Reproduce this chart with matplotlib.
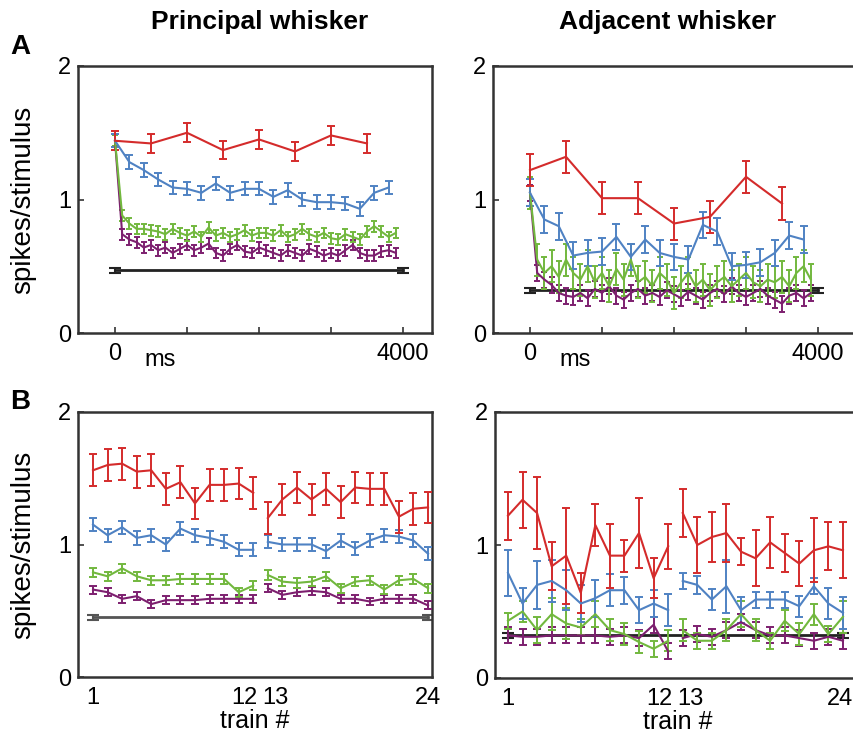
import matplotlib
matplotlib.use("Agg")
import matplotlib.pyplot as plt

plt.rcParams['font.family'] = ['Liberation Sans', 'DejaVu Sans']

# colours of the four stimulus frequencies
RED = '#d42b2b'
BLUE = '#4f82c3'
GREEN = '#72b83e'
PURPLE = '#7d1f6f'

# ---- panel A: response within a train (time in ms) ----
t_red = [0, 500, 1000, 1500, 2000, 2500, 3000, 3500]
t_blue = [0, 200, 400, 600, 800, 1000, 1200, 1400, 1600, 1800,
          2000, 2200, 2400, 2600, 2800, 3000, 3200, 3400, 3600, 3800]
t_fast = [0, 100, 200, 300, 400, 500, 600, 700, 800, 900,
          1000, 1100, 1200, 1300, 1400, 1500, 1600, 1700, 1800, 1900,
          2000, 2100, 2200, 2300, 2400, 2500, 2600, 2700, 2800, 2900,
          3000, 3100, 3200, 3300, 3400, 3500, 3600, 3700, 3800, 3900]

pw_red = [1.44, 1.42, 1.50, 1.37, 1.45, 1.36, 1.48, 1.42]
pw_blue = [1.44, 1.28, 1.22, 1.15, 1.09, 1.08, 1.05, 1.12, 1.05, 1.08,
           1.08, 1.02, 1.07, 1.00, 0.98, 0.98, 0.97, 0.93, 1.05, 1.09]
pw_green = [1.44, 0.88, 0.82, 0.78, 0.78, 0.77, 0.76, 0.74, 0.78, 0.75,
            0.73, 0.76, 0.72, 0.79, 0.73, 0.75, 0.72, 0.74, 0.77, 0.73,
            0.75, 0.75, 0.73, 0.77, 0.72, 0.74, 0.78, 0.74, 0.72, 0.75,
            0.71, 0.70, 0.74, 0.72, 0.70, 0.76, 0.80, 0.76, 0.72, 0.75]
pw_purple = [1.44, 0.74, 0.70, 0.68, 0.64, 0.66, 0.62, 0.64, 0.60, 0.63,
             0.66, 0.62, 0.64, 0.67, 0.60, 0.58, 0.63, 0.66, 0.61, 0.60,
             0.64, 0.62, 0.60, 0.58, 0.62, 0.60, 0.58, 0.63, 0.61, 0.58,
             0.60, 0.58, 0.62, 0.66, 0.60, 0.58, 0.58, 0.61, 0.62, 0.60]
pw_base = 0.47

aw_red = [1.22, 1.32, 1.01, 1.01, 0.82, 0.87, 1.17, 0.97]
aw_blue = [1.05, 0.85, 0.80, 0.58, 0.60, 0.61, 0.72, 0.57, 0.70, 0.60,
           0.57, 0.55, 0.81, 0.76, 0.50, 0.51, 0.53, 0.60, 0.73, 0.70]
aw_green = [1.05, 0.55, 0.45, 0.50, 0.42, 0.55, 0.45, 0.40, 0.50, 0.38,
            0.45, 0.35, 0.48, 0.40, 0.55, 0.38, 0.42, 0.35, 0.45, 0.40,
            0.30, 0.38, 0.45, 0.35, 0.40, 0.32, 0.38, 0.42, 0.35, 0.40,
            0.45, 0.38, 0.35, 0.40, 0.38, 0.42, 0.35, 0.45, 0.50, 0.40]
aw_purple = [1.05, 0.45, 0.40, 0.36, 0.30, 0.28, 0.27, 0.30, 0.26, 0.33,
             0.30, 0.35, 0.28, 0.25, 0.30, 0.33, 0.28, 0.30, 0.27, 0.32,
             0.29, 0.26, 0.31, 0.28, 0.25, 0.30, 0.33, 0.29, 0.35, 0.30,
             0.27, 0.30, 0.33, 0.28, 0.25, 0.22, 0.28, 0.30, 0.26, 0.30]
aw_base = 0.32

# errors (sem) for panel A
pw_err = {'red': 0.07, 'blue': 0.05, 'green': 0.04, 'purple': 0.04}
aw_err = {'red': 0.12, 'blue': 0.10, 'green': 0.12, 'purple': 0.06}

# ---- panel B: response across trains ----
trains_1 = [1, 2, 3, 4, 5, 6, 7, 8, 9, 10, 11, 12]
trains_2 = [13, 14, 15, 16, 17, 18, 19, 20, 21, 22, 23, 24]

pb_red = [1.56, 1.60, 1.61, 1.55, 1.56, 1.42, 1.47, 1.31, 1.45, 1.45, 1.46, 1.39,
          1.20, 1.34, 1.43, 1.34, 1.42, 1.32, 1.43, 1.42, 1.42, 1.21, 1.27, 1.28]
pb_blue = [1.15, 1.07, 1.13, 1.05, 1.07, 1.00, 1.12, 1.07, 1.05, 1.02, 0.96, 0.96,
           1.02, 1.00, 1.00, 1.00, 0.95, 1.03, 0.97, 1.03, 1.07, 1.06, 1.03, 0.93]
pb_green = [0.79, 0.76, 0.82, 0.76, 0.73, 0.73, 0.74, 0.74, 0.74, 0.74, 0.64, 0.69,
            0.77, 0.72, 0.71, 0.72, 0.76, 0.67, 0.72, 0.73, 0.66, 0.73, 0.74, 0.67]
pb_purple = [0.66, 0.64, 0.59, 0.61, 0.55, 0.58, 0.58, 0.58, 0.59, 0.59, 0.59, 0.59,
             0.67, 0.62, 0.64, 0.65, 0.64, 0.59, 0.59, 0.57, 0.59, 0.59, 0.59, 0.54]
pb_base = 0.45
pb_err = {'red': 0.12, 'blue': 0.05, 'green': 0.035, 'purple': 0.03}

ab_red = [1.22, 1.34, 1.24, 0.84, 0.92, 0.64, 1.15, 0.92, 0.92, 1.09, 0.75, 0.99,
          1.24, 1.00, 1.06, 1.09, 0.95, 0.90, 1.02, 0.94, 0.86, 0.96, 0.99, 0.96]
ab_red_err = [0.18, 0.21, 0.27, 0.18, 0.36, 0.15, 0.16, 0.24, 0.12, 0.26, 0.15, 0.17,
              0.18, 0.21, 0.19, 0.22, 0.10, 0.21, 0.19, 0.14, 0.17, 0.24, 0.18, 0.21]
ab_blue = [0.79, 0.56, 0.70, 0.73, 0.66, 0.56, 0.60, 0.66, 0.66, 0.51, 0.56, 0.51,
           0.73, 0.70, 0.59, 0.69, 0.51, 0.59, 0.59, 0.59, 0.54, 0.69, 0.56, 0.49]
ab_blue_err = [0.17, 0.12, 0.18, 0.16, 0.15, 0.14, 0.14, 0.12, 0.10, 0.10, 0.10, 0.12,
               0.06, 0.07, 0.08, 0.20, 0.10, 0.06, 0.06, 0.06, 0.08, 0.06, 0.12, 0.12]
ab_green = [0.43, 0.50, 0.36, 0.48, 0.41, 0.38, 0.48, 0.36, 0.33, 0.27, 0.22, 0.28,
            0.36, 0.28, 0.28, 0.36, 0.48, 0.36, 0.28, 0.43, 0.33, 0.48, 0.33, 0.46]
ab_green_err = [0.06, 0.08, 0.10, 0.12, 0.12, 0.06, 0.10, 0.08, 0.08, 0.08, 0.06, 0.08,
                0.08, 0.06, 0.06, 0.08, 0.10, 0.08, 0.06, 0.08, 0.08, 0.08, 0.06, 0.12]
ab_purple = [0.32, 0.31, 0.31, 0.32, 0.32, 0.32, 0.32, 0.31, 0.32, 0.30, 0.40, 0.20,
             0.30, 0.33, 0.31, 0.36, 0.42, 0.36, 0.32, 0.32, 0.30, 0.28, 0.31, 0.28]
ab_purple_err = 0.06
ab_base = 0.32

fig = plt.figure(figsize=(8.54, 7.41), dpi=100)
W, H = 854.0, 741.0


def place(x0, x1, y0, y1):
    # pixel box -> figure axes
    return fig.add_axes([x0 / W, 1 - y1 / H, (x1 - x0) / W, (y1 - y0) / H])


ax_pa = place(78, 432, 66, 333)
ax_aa = place(493, 860, 66, 333)
ax_pb = place(78, 432, 412, 677)
ax_ab = place(495, 860, 412, 678)


def series(ax, x, y, err, color, cap=3, lw=1.5):
    ax.errorbar(x, y, yerr=err, color=color, lw=lw, elinewidth=1.4,
                capsize=cap, capthick=1.4, zorder=3)


def baseline(ax, x0, x1, y, color='#222222'):
    ax.errorbar([x0, x1], [y, y], yerr=0.02, color=color, lw=2,
                elinewidth=1.5, capsize=4, capthick=1.5, zorder=2)


def style(ax):
    ax.set_ylim(0, 2)
    ax.set_yticks([0, 1, 2])
    ax.set_yticklabels(['0', '1', '2'])
    for sp in ax.spines.values():
        sp.set_color('#333333')
        sp.set_linewidth(1.8)
    ax.tick_params(direction='in', length=4, width=1.2, labelsize=17,
                   color='#333333', pad=5)


# panel A
for ax, red, blue, green, purple, base, err in [
        (ax_pa, pw_red, pw_blue, pw_green, pw_purple, pw_base, pw_err),
        (ax_aa, aw_red, aw_blue, aw_green, aw_purple, aw_base, aw_err)]:
    baseline(ax, 0, 4000, base)
    series(ax, t_fast, purple, err['purple'], PURPLE, cap=2.5)
    series(ax, t_fast, green, err['green'], GREEN, cap=2.5)
    series(ax, t_blue, blue, err['blue'], BLUE)
    series(ax, t_red, red, err['red'], RED)
    style(ax)
    ax.set_xticks([0, 1000, 2000, 3000, 4000])
    ax.set_xticklabels(['0', '', '', '', '4000'])
    ax.tick_params(axis='x', pad=7)
    ax.text(625, -0.06, 'ms', transform=ax.get_xaxis_transform(),
            ha='center', va='top', fontsize=17)

ax_pa.set_xlim(-514, 4403)
ax_aa.set_xlim(-514, 4583)

# panel B
series(ax_pb, trains_1, pb_purple[:12], pb_err['purple'], PURPLE)
series(ax_pb, trains_2, pb_purple[12:], pb_err['purple'], PURPLE)
series(ax_pb, trains_1, pb_green[:12], pb_err['green'], GREEN)
series(ax_pb, trains_2, pb_green[12:], pb_err['green'], GREEN)
series(ax_pb, trains_1, pb_blue[:12], pb_err['blue'], BLUE)
series(ax_pb, trains_2, pb_blue[12:], pb_err['blue'], BLUE)
series(ax_pb, trains_1, pb_red[:12], pb_err['red'], RED)
series(ax_pb, trains_2, pb_red[12:], pb_err['red'], RED)
baseline(ax_pb, 1, 24, pb_base, color='#555555')

baseline(ax_ab, 1, 24, ab_base)
series(ax_ab, trains_1, ab_purple[:12], ab_purple_err, PURPLE)
series(ax_ab, trains_2, ab_purple[12:], ab_purple_err, PURPLE)
series(ax_ab, trains_1, ab_green[:12], ab_green_err[:12], GREEN)
series(ax_ab, trains_2, ab_green[12:], ab_green_err[12:], GREEN)
series(ax_ab, trains_1, ab_blue[:12], ab_blue_err[:12], BLUE)
series(ax_ab, trains_2, ab_blue[12:], ab_blue_err[12:], BLUE)
series(ax_ab, trains_1, ab_red[:12], ab_red_err[:12], RED)
series(ax_ab, trains_2, ab_red[12:], ab_red_err[12:], RED)

for ax, last_x in ((ax_pb, 24.0), (ax_ab, 24.7)):
    style(ax)
    # "12" and "13" sit close together around the break between the blocks
    ax.set_xticks([1, 12.3, 12.65, last_x])
    ax.set_xticklabels(['1', '12', '13', '24'])
    ax.tick_params(axis='x', length=0, pad=7)
    labs = ax.get_xticklabels()
    labs[1].set_ha('right')
    labs[2].set_ha('left')
    if last_x > 24:
        labs[3].set_ha('right')
    ax.set_xlabel('train #', fontsize=18, labelpad=0)

ax_pb.set_xlim(-0.03, 24.27)
ax_ab.set_xlim(0.11, 25.17)

for ax in (ax_pa, ax_pb):
    ax.set_ylabel('spikes/stimulus', fontsize=20, labelpad=16)

fig.text(260 / W, 1 - 22 / H, 'Principal whisker', ha='center', va='center',
         fontsize=19, fontweight='bold')
fig.text(668 / W, 1 - 22 / H, 'Adjacent whisker', ha='center', va='center',
         fontsize=19, fontweight='bold')
fig.text(20 / W, 1 - 47 / H, 'A', ha='center', va='center',
         fontsize=20, fontweight='bold')
fig.text(20 / W, 1 - 402 / H, 'B', ha='center', va='center',
         fontsize=20, fontweight='bold')

fig.savefig('out.png', dpi=100)
